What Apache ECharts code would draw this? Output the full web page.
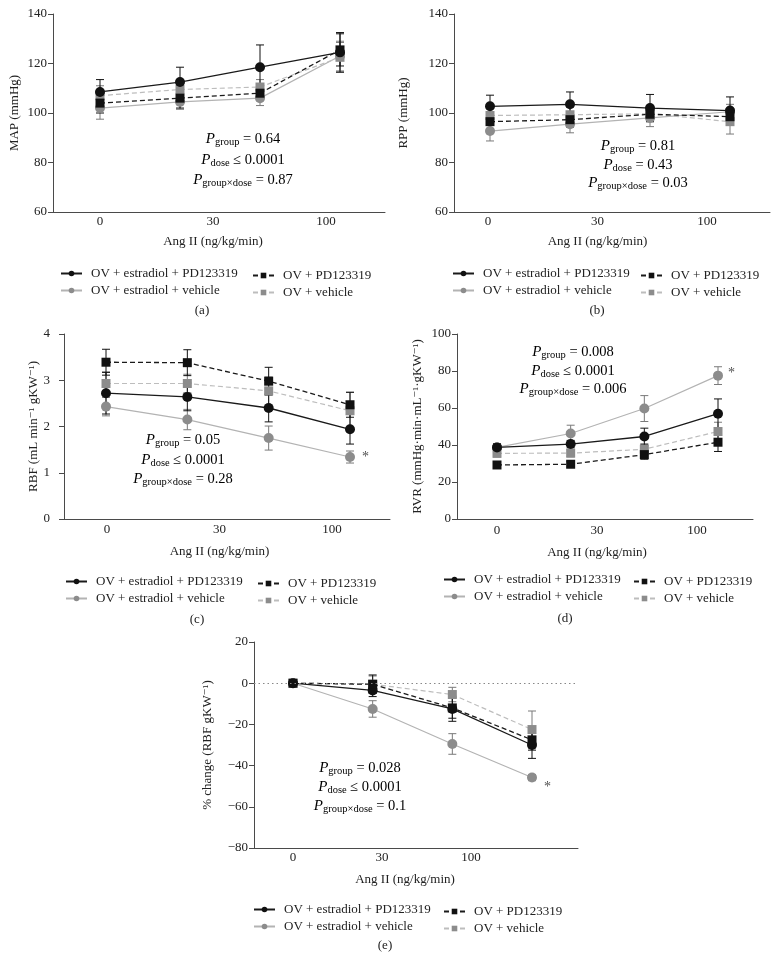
<!DOCTYPE html>
<html><head><meta charset="utf-8">
<script src="https://cdn.jsdelivr.net/npm/echarts@6/dist/echarts.min.js"></script>
<style>html,body{margin:0;padding:0;background:#fff}#c{width:779px;height:963px}</style>
</head><body><div id="c"></div>
<script>
// ---------------- DATA ----------------
const doseLabels = ['0', '30', '100'];          // x tick labels
const doseSteps = [0, 1, 2, 3];                 // 4 measurement steps (category index)
const groupNames = ['OV + estradiol + PD123319', 'OV + PD123319', 'OV + estradiol + vehicle', 'OV + vehicle'];

// (a) MAP (mmHg)
const mapE2PD  = [108.5, 112.5, 118.5, 124.5];
const mapPD    = [104, 106, 108, 125.5];
const mapE2Veh = [102, 104.5, 106, 123];
const mapVeh   = [107, 109.5, 110.5, 122.5];
const mapE2PDErr  = [5, 6, 9, 8];
const mapPDErr    = [4, 4, 3, 6.5];
const mapE2VehErr = [4.5, 3, 3, 6];
const mapVehErr   = [4, 4, 3, 6];

// (b) RPP (mmHg)
const rppE2PD  = [102.7, 103.5, 102, 101];
const rppPD    = [96.5, 97.3, 99.5, 98.5];
const rppE2Veh = [92.7, 95.5, 98, 100.5];
const rppVeh   = [99, 99.3, 99.7, 96.5];
const rppE2PDErr  = [4.5, 5, 5.5, 5.5];
const rppPDErr    = [3, 3, 3, 3];
const rppE2VehErr = [4, 3.5, 3.5, 3];
const rppVehErr   = [3, 3, 3, 5];

// (c) RBF
const rbfE2PD  = [2.72, 2.64, 2.40, 1.94];
const rbfPD    = [3.39, 3.38, 2.98, 2.47];
const rbfE2Veh = [2.43, 2.15, 1.75, 1.34];
const rbfVeh   = [2.93, 2.93, 2.77, 2.34];
const rbfE2PDErr  = [0.45, 0.3, 0.3, 0.32];
const rbfPDErr    = [0.28, 0.28, 0.3, 0.27];
const rbfE2VehErr = [0.2, 0.22, 0.26, 0.13];
const rbfVehErr   = [0.25, 0.2, 0.3, 0.4];

// (d) RVR
const rvrE2PD  = [38.7, 40.5, 44.6, 56.9];
const rvrPD    = [29.2, 29.6, 34.8, 41.5];
const rvrE2Veh = [38.7, 46.2, 59.7, 77.5];
const rvrVeh   = [35.5, 35.6, 37.7, 47.3];
const rvrE2PDErr  = [2, 2, 4.5, 8];
const rvrPDErr    = [1.5, 1.5, 2.5, 5];
const rvrE2VehErr = [2, 4.5, 7, 4.8];
const rvrVehErr   = [2, 2, 3, 5];

// (e) % change RBF
const pctE2PD  = [0, -3.5, -12.5, -30];
const pctPD    = [0, -0.5, -12, -27.5];
const pctE2Veh = [0, -12.5, -29.5, -45.8];
const pctVeh   = [0, -0.5, -5.5, -22.5];
const pctE2PDErr  = [0, 3, 6, 6.5];
const pctPDErr    = [0, 4.5, 5, 5];
const pctE2VehErr = [0, 4, 5, 1.5];
const pctVehErr   = [0, 4, 3.5, 9];

// statistics text
const statsA = [['group', '= 0.64'], ['dose', '≤ 0.0001'], ['group×dose', '= 0.87']];
const statsB = [['group', '= 0.81'], ['dose', '= 0.43'], ['group×dose', '= 0.03']];
const statsC = [['group', '= 0.05'], ['dose', '≤ 0.0001'], ['group×dose', '= 0.28']];
const statsD = [['group', '= 0.008'], ['dose', '≤ 0.0001'], ['group×dose', '= 0.006']];
const statsE = [['group', '= 0.028'], ['dose', '≤ 0.0001'], ['group×dose', '= 0.1']];

// ---------------- LAYOUT / STYLE ----------------
const FONT = '"Liberation Serif","DejaVu Serif",serif';
const TXT = '#222';
const AXC = '#4a4a4a';
const styleFor = [
  {sym: 'circle', size: 10, color: '#111', line: '#1a1a1a', dash: 'solid', lw: 1.3, err: '#111'},
  {sym: 'rect', size: 9, color: '#111', line: '#1a1a1a', dash: [5, 3], lw: 1.3, err: '#111'},
  {sym: 'circle', size: 10, color: '#8c8c8c', line: '#b3b3b3', dash: 'solid', lw: 1.2, err: '#7a7a7a'},
  {sym: 'rect', size: 9, color: '#8c8c8c', line: '#bdbdbd', dash: [5, 3], lw: 1.2, err: '#7a7a7a'}
];

const panels = [
  {tag: '(a)', yName: 'MAP (mmHg)', min: 60, max: 140, interval: 20,
   vals: [mapE2PD, mapPD, mapE2Veh, mapVeh], errs: [mapE2PDErr, mapPDErr, mapE2VehErr, mapVehErr], stats: statsA,
   left: 53, top: 14, width: 332, height: 198, first: 100, last: 340, labels: [100, 213, 326],
   yGap: 32, yMargin: 6, lblMargin: 3, nameGap: 23, nameShift: 0, star: null,
   statX: 243, statY: [139, 160, 180], leg1: [60, 266], leg2: [252, 268], tagPos: [202, 311]},
  {tag: '(b)', yName: 'RPP (mmHg)', min: 60, max: 140, interval: 20,
   vals: [rppE2PD, rppPD, rppE2Veh, rppVeh], errs: [rppE2PDErr, rppPDErr, rppE2VehErr, rppVehErr], stats: statsB,
   left: 454, top: 14, width: 316, height: 198, first: 490, last: 730, labels: [488, 597, 707],
   yGap: 44, yMargin: 6, lblMargin: 3, nameGap: 23, nameShift: 0, star: null,
   statX: 638, statY: [146, 165, 183], leg1: [452, 266], leg2: [640, 268], tagPos: [597, 311]},
  {tag: '(c)', yName: 'RBF (mL min⁻¹ gKW⁻¹)', min: 0, max: 4, interval: 1,
   vals: [rbfE2PD, rbfPD, rbfE2Veh, rbfVeh], errs: [rbfE2PDErr, rbfPDErr, rbfE2VehErr, rbfVehErr], stats: statsC,
   left: 64, top: 334, width: 326, height: 185, first: 106, last: 350, labels: [107, 221, 332],
   yGap: 24, yMargin: 14, lblMargin: 4, nameGap: 26, nameShift: 0, star: {offset: [4, 0]},
   statX: 183, statY: [440, 460, 479], leg1: [65, 574], leg2: [257, 576], tagPos: [197, 620]},
  {tag: '(d)', yName: 'RVR (mmHg·min·mL⁻¹·gKW⁻¹)', min: 0, max: 100, interval: 20,
   vals: [rvrE2PD, rvrPD, rvrE2Veh, rvrVeh], errs: [rvrE2PDErr, rvrPDErr, rvrE2VehErr, rvrVehErr], stats: statsD,
   left: 457, top: 334, width: 296, height: 185, first: 497, last: 718, labels: [497, 594, 697],
   yGap: 33, yMargin: 6, lblMargin: 5, nameGap: 27, nameShift: 0, star: {offset: [2, -2]},
   statX: 573, statY: [352, 371, 389], leg1: [443, 572], leg2: [633, 574], tagPos: [565, 619]},
  {tag: '(e)', yName: '% change (RBF gKW⁻¹)', min: -80, max: 20, interval: 20,
   vals: [pctE2PD, pctPD, pctE2Veh, pctVeh], errs: [pctE2PDErr, pctPDErr, pctE2VehErr, pctVehErr], stats: statsE,
   left: 254, top: 642, width: 324, height: 206, first: 293, last: 532, labels: [293, 382, 471],
   yGap: 40, yMargin: 6, lblMargin: 3, nameGap: 25, nameShift: 46, star: {offset: [4, 10]}, zeroLine: true,
   statX: 360, statY: [768, 787, 806], leg1: [253, 902], leg2: [443, 904], tagPos: [385, 946]}
];

function errRender(color) {
  return function (params, api) {
    const x = api.value(0), y = api.value(1), e = api.value(2);
    if (!e) return null;
    const t = api.coord([x, y + e]), b = api.coord([x, y - e]);
    const hw = 4, st = {stroke: color, lineWidth: 1};
    return {type: 'group', children: [
      {type: 'line', shape: {x1: t[0], y1: t[1], x2: b[0], y2: b[1]}, style: st},
      {type: 'line', shape: {x1: t[0] - hw, y1: t[1], x2: t[0] + hw, y2: t[1]}, style: st},
      {type: 'line', shape: {x1: b[0] - hw, y1: b[1], x2: b[0] + hw, y2: b[1]}, style: st}
    ]};
  };
}

const grid = [], xAxis = [], yAxis = [], series = [], legend = [], graphic = [];

panels.forEach((p, k) => {
  const gMain = 2 * k, gLbl = 2 * k + 1;
  grid.push({left: p.left, top: p.top, width: p.width, height: p.height, outerBoundsMode: 'none', containLabel: false});
  const band = (p.labels[2] - p.labels[0]) / 2;
  grid.push({left: p.labels[0] - band / 2, top: p.top, width: band * 3, height: p.height, outerBoundsMode: 'none', containLabel: false});

  const sp = (p.last - p.first) / 3;
  xAxis.push({type: 'value', gridIndex: gMain, min: -(p.first - p.left) / sp, max: 3 + (p.left + p.width - p.last) / sp,
    axisLine: {show: true, onZero: false, lineStyle: {color: AXC, width: 1}}, axisTick: {show: false},
    axisLabel: {show: false}, splitLine: {show: false}});
  xAxis.push({type: 'category', gridIndex: gLbl, data: doseLabels, boundaryGap: true,
    axisLine: {show: false}, axisTick: {show: false}, splitLine: {show: false},
    axisLabel: {fontFamily: FONT, fontSize: 13, color: TXT, margin: p.lblMargin},
    name: 'Ang II (ng/kg/min)', nameLocation: 'middle', nameGap: p.nameGap,
    nameTextStyle: {fontFamily: FONT, fontSize: 13, color: TXT, padding: [0, 0, 0, p.nameShift]}});
  yAxis.push({type: 'value', gridIndex: gMain, min: p.min, max: p.max, interval: p.interval,
    axisLine: {show: true, onZero: false, lineStyle: {color: AXC, width: 1}},
    axisTick: {show: true, length: 5, lineStyle: {color: AXC}},
    axisLabel: {fontFamily: FONT, fontSize: 13, color: TXT, margin: p.yMargin,
      formatter: v => String(v).replace('-', '\u2212')},
    splitLine: {show: false},
    name: p.yName, nameLocation: 'middle', nameGap: p.yGap, nameRotate: 90,
    nameTextStyle: {fontFamily: FONT, fontSize: 13, color: TXT}});
  yAxis.push({type: 'value', gridIndex: gLbl, show: false, min: p.min, max: p.max});

  const xi = 2 * k, yi = 2 * k;
  // error bars
  [2, 3, 0, 1].forEach(j => {
    series.push({type: 'custom', xAxisIndex: xi, yAxisIndex: yi, silent: true,
      renderItem: errRender(styleFor[j].err), encode: {x: 0, y: 1},
      data: doseSteps.map((s, i) => [s, p.vals[j][i], p.errs[j][i]]), z: 3});
  });
  // lines
  [2, 3, 0, 1].forEach(j => {
    const s = styleFor[j];
    const ser = {type: 'line', name: groupNames[j], xAxisIndex: xi, yAxisIndex: yi,
      data: doseSteps.map((st, i) => [st, p.vals[j][i]]),
      symbol: s.sym, symbolSize: s.size, showSymbol: true,
      itemStyle: {color: s.color}, lineStyle: {color: s.line, type: s.dash, width: s.lw},
      emphasis: {disabled: true}, z: 4};
    if (p.zeroLine && j === 2) {
      ser.markLine = {silent: true, symbol: 'none', label: {show: false},
        lineStyle: {color: '#888', type: [1.5, 3], width: 1}, data: [{yAxis: 0}]};
    }
    series.push(ser);
  });
  // significance asterisk on the estradiol + vehicle group at the last step
  if (p.star) {
    series.push({type: 'scatter', xAxisIndex: xi, yAxisIndex: yi, symbolSize: 0, silent: true,
      data: [[doseSteps[3], p.vals[2][3]]],
      label: {show: true, formatter: '*', position: 'right', distance: 8, offset: p.star.offset,
        fontFamily: FONT, fontSize: 14, color: TXT}, z: 5});
  }

  const legBase = {orient: 'vertical', itemWidth: 21, itemHeight: 7, itemGap: 2, padding: 0,
    selectedMode: false, textStyle: {fontFamily: FONT, fontSize: 13, color: TXT, lineHeight: 15, padding: [0, 0, 0, 4]}};
  legend.push(Object.assign({}, legBase, {left: p.leg1[0], top: p.leg1[1], data: [groupNames[0], groupNames[2]]}));
  legend.push(Object.assign({}, legBase, {left: p.leg2[0], top: p.leg2[1], data: [groupNames[1], groupNames[3]]}));

  p.stats.forEach((st, i) => {
    graphic.push({type: 'text', x: p.statX, y: p.statY[i], silent: true,
      style: {text: '{p|P}{s|' + st[0] + '}{n| ' + st[1] + '}', align: 'center', verticalAlign: 'middle',
        rich: {
          p: {fontFamily: FONT, fontStyle: 'italic', fontSize: 15, color: TXT, lineHeight: 18},
          s: {fontFamily: FONT, fontSize: 10.5, color: TXT, lineHeight: 10, verticalAlign: 'bottom'},
          n: {fontFamily: FONT, fontSize: 14.5, color: TXT, lineHeight: 18}
        }}});
  });
  graphic.push({type: 'text', x: p.tagPos[0], y: p.tagPos[1], silent: true,
    style: {text: p.tag, align: 'center', verticalAlign: 'middle', fontFamily: FONT, fontSize: 13, fill: TXT}});
});

const chart = echarts.init(document.getElementById('c'), null, {renderer: 'canvas', width: 779, height: 963});
chart.setOption({animation: false, backgroundColor: '#fff', grid, xAxis, yAxis, series, legend, graphic});
</script></body></html>
